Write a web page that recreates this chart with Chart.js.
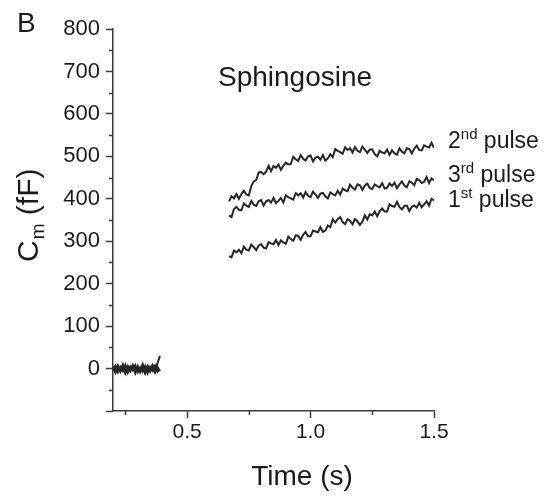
<!DOCTYPE html>
<html>
<head>
    <meta charset="utf-8" />
    <title>Sphingosine Cm</title>
    <script src="https://cdn.jsdelivr.net/npm/chart.js"></script>
    <style>
        body { margin: 0; background: #fff; }
        #wrap { width: 545px; height: 498px; }
    </style>
</head>
<body>
    <div id="wrap"><canvas id="myChart"></canvas></div>

    <script type="text/javascript">
        // baseline before the pulses (three overlapping traces)
        const tBase = [0.20, 0.21, 0.22, 0.23, 0.24, 0.25, 0.26, 0.27, 0.28, 0.29,
            0.30, 0.31, 0.32, 0.33, 0.34, 0.35, 0.36, 0.37, 0.38, 0.39];
        const baseA = [5, -6, 8, -4, 10, -8, 6, -3, 9, -7, 4, -5, 11, -6, 7, -2, 9, -4, 12, 30];
        const baseB = [-3, 7, -9, 4, -6, 9, -10, 5, -4, 8, -9, 3, -7, 6, -11, 4, -5, 7, -8, -2];
        const baseC = [2, -10, 3, -8, 5, -12, 2, -7, 4, -11, 6, -9, 1, -12, 3, -8, 2, -10, 4, -6];

        // time after the pulses
        const tPulse = [0.67, 0.68, 0.69, 0.70, 0.71, 0.72, 0.73, 0.74, 0.75, 0.76,
            0.77, 0.78, 0.79, 0.80, 0.81, 0.82, 0.83, 0.84, 0.85, 0.86,
            0.87, 0.88, 0.89, 0.90, 0.91, 0.92, 0.93, 0.94, 0.95, 0.96,
            0.97, 0.98, 0.99, 1.00, 1.01, 1.02, 1.03, 1.04, 1.05, 1.06,
            1.07, 1.08, 1.09, 1.10, 1.11, 1.12, 1.13, 1.14, 1.15, 1.16,
            1.17, 1.18, 1.19, 1.20, 1.21, 1.22, 1.23, 1.24, 1.25, 1.26,
            1.27, 1.28, 1.29, 1.30, 1.31, 1.32, 1.33, 1.34, 1.35, 1.36,
            1.37, 1.38, 1.39, 1.40, 1.41, 1.42, 1.43, 1.44, 1.45, 1.46,
            1.47, 1.48, 1.49, 1.50];

        const pulse1 = [265, 262, 278, 274, 280, 272, 287, 280, 278, 292,
            286, 279, 290, 293, 285, 283, 298, 295, 293, 303,
            291, 302, 297, 294, 311, 305, 301, 314, 313, 303,
            315, 322, 312, 312, 325, 323, 321, 333, 322, 325,
            337, 333, 352, 344, 352, 357, 345, 340, 352, 348,
            340, 352, 347, 338, 346, 361, 351, 364, 361, 370,
            359, 371, 377, 370, 370, 387, 383, 381, 393, 381,
            375, 383, 384, 371, 381, 384, 379, 391, 380, 387,
            394, 384, 400, 396];

        const pulse2 = [394, 406, 401, 411, 400, 411, 419, 410, 408, 430,
            441, 444, 462, 463, 458, 464, 478, 465, 477, 473,
            481, 468, 478, 485, 481, 482, 499, 493, 489, 503,
            494, 490, 500, 502, 488, 497, 499, 492, 503, 490,
            495, 505, 498, 517, 513, 510, 506, 521, 515, 519,
            509, 522, 513, 510, 523, 516, 508, 516, 516, 505,
            500, 513, 509, 507, 516, 503, 514, 507, 504, 519,
            511, 507, 519, 517, 507, 518, 525, 515, 514, 526,
            523, 521, 532, 520];

        const pulse3 = [361, 357, 376, 381, 374, 373, 389, 384, 381, 395,
            386, 383, 394, 397, 384, 394, 397, 391, 402, 390,
            395, 402, 391, 408, 404, 401, 398, 413, 408, 413,
            403, 416, 407, 404, 417, 410, 402, 412, 414, 405,
            401, 415, 411, 408, 419, 410, 424, 420, 418, 433,
            426, 422, 434, 432, 421, 431, 436, 425, 423, 434,
            430, 427, 437, 424, 426, 436, 430, 438, 425, 434,
            441, 431, 427, 441, 438, 432, 447, 444, 437, 440,
            451, 437, 448, 444];

        // axis ticks
        const xMajor = [0.5, 1.0, 1.5];
        const xMinor = [0.25, 0.75, 1.25];
        const yMinor = [-50, 50, 150, 250, 350, 450, 550, 650, 750];

        const axisColor = '#3a3a3a';
        const textColor = '#1a1a1a';
        const fontName = '"Liberation Sans", Arial, sans-serif';

        const toPoints = (ts, vs) => ts.map((t, i) => ({ x: t, y: vs[i] }));

        const trace = (data) => ({
            data: data,
            borderColor: '#262626',
            borderWidth: 2,
            pointRadius: 0,
            fill: false,
            tension: 0
        });

        // minor ticks, titles and labels drawn on top
        const extrasPlugin = {
            id: 'extras',
            afterDraw(chart) {
                const { ctx, chartArea } = chart;
                const x = chart.scales.x;
                const y = chart.scales.y;
                ctx.save();
                ctx.strokeStyle = axisColor;
                ctx.lineWidth = 1.5;
                ctx.beginPath();
                yMinor.forEach(v => {
                    const py = Math.round(y.getPixelForValue(v)) + 0.5;
                    ctx.moveTo(chartArea.left - 4, py);
                    ctx.lineTo(chartArea.left, py);
                });
                xMinor.forEach(v => {
                    const px = Math.round(x.getPixelForValue(v)) + 0.5;
                    ctx.moveTo(px, chartArea.bottom);
                    ctx.lineTo(px, chartArea.bottom + 4);
                });
                ctx.stroke();

                ctx.fillStyle = textColor;
                ctx.textBaseline = 'alphabetic';
                ctx.textAlign = 'left';

                ctx.font = '28px ' + fontName;
                ctx.fillText('B', 17, 32);
                ctx.fillText('Sphingosine', 218, 86);

                ctx.textAlign = 'center';
                ctx.fillText('Time (s)', 302, 485);
                ctx.textAlign = 'left';

                // y title with subscript
                ctx.save();
                ctx.translate(38, 262);
                ctx.rotate(-Math.PI / 2);
                ctx.font = '30px ' + fontName;
                ctx.fillText('C', 0, 0);
                let w = ctx.measureText('C').width;
                ctx.font = '19px ' + fontName;
                ctx.fillText('m', w + 1, 6);
                w += ctx.measureText('m').width + 1;
                ctx.font = '30px ' + fontName;
                ctx.fillText(' (fF)', w, 0);
                ctx.restore();

                // pulse labels with superscripts
                const label = (num, sup, yb) => {
                    let px = 448;
                    ctx.font = '23px ' + fontName;
                    ctx.fillText(num, px, yb);
                    px += ctx.measureText(num).width;
                    ctx.font = '15px ' + fontName;
                    ctx.fillText(sup, px, yb - 9);
                    px += ctx.measureText(sup).width;
                    ctx.font = '23px ' + fontName;
                    ctx.fillText(' pulse', px, yb);
                };
                label('2', 'nd', 148);
                label('3', 'rd', 182);
                label('1', 'st', 207);
                ctx.restore();
            }
        };

        const ctx = document.getElementById('myChart');
        new Chart(ctx, {
            type: 'line',
            data: {
                datasets: [
                    trace(toPoints(tBase, baseC)),
                    trace(toPoints(tBase, baseB)),
                    trace(toPoints(tBase, baseA)),
                    trace(toPoints(tPulse, pulse1)),
                    trace(toPoints(tPulse, pulse3)),
                    trace(toPoints(tPulse, pulse2))
                ]
            },
            options: {
                responsive: true,
                maintainAspectRatio: false,
                animation: false,
                layout: { padding: { top: 29, right: 111, left: 0, bottom: 0 } },
                plugins: {
                    legend: { display: false },
                    tooltip: { enabled: false }
                },
                scales: {
                    x: {
                        type: 'linear',
                        min: 0.2,
                        max: 1.5,
                        afterBuildTicks: scale => {
                            scale.ticks = xMajor.map(v => ({ value: v }));
                        },
                        afterFit: scale => { scale.height = 87; },
                        grid: {
                            drawOnChartArea: false,
                            drawTicks: true,
                            tickLength: 7,
                            tickColor: axisColor,
                            tickWidth: 1.5
                        },
                        border: { display: true, color: axisColor, width: 1.5 },
                        ticks: {
                            color: textColor,
                            padding: 2,
                            maxRotation: 0,
                            font: { family: fontName, size: 21 },
                            callback: v => v.toFixed(1)
                        }
                    },
                    y: {
                        min: -100,
                        max: 800,
                        afterFit: scale => { scale.width = 113; },
                        grid: {
                            drawOnChartArea: false,
                            drawTicks: true,
                            tickLength: 7,
                            tickColor: axisColor,
                            tickWidth: 1.5
                        },
                        border: { display: true, color: axisColor, width: 1.5 },
                        ticks: {
                            stepSize: 100,
                            color: textColor,
                            padding: 6,
                            font: { family: fontName, size: 22 },
                            callback: v => (v === -100 ? '' : v)
                        }
                    }
                }
            },
            plugins: [extrasPlugin]
        });
    </script>
</body>
</html>
